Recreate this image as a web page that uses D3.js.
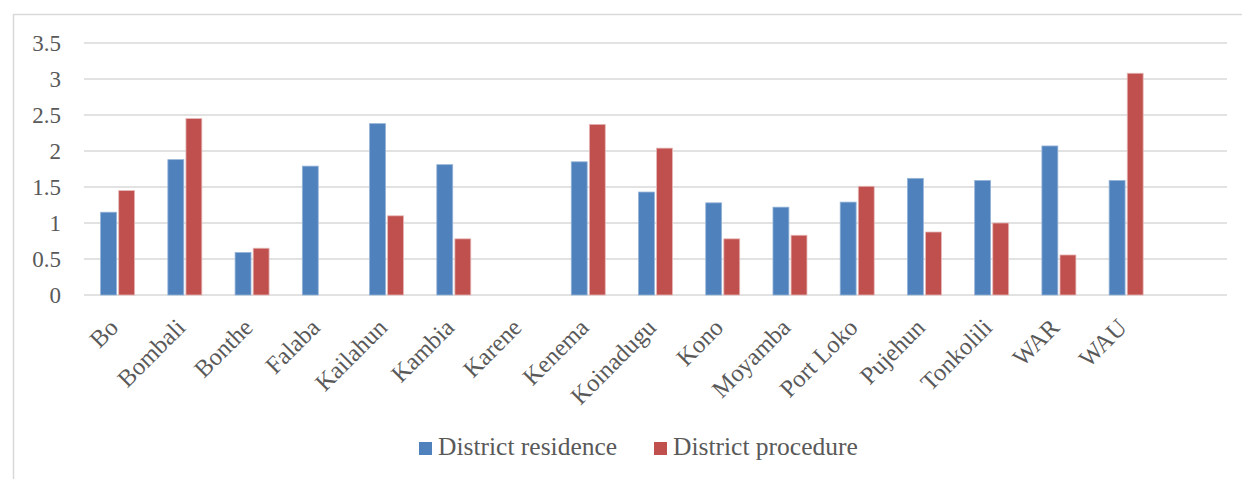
<!DOCTYPE html>
<html>
<head>
<meta charset="utf-8">
<script src="https://cdn.jsdelivr.net/npm/d3@7"></script>
<style>
  body { margin: 0; background: #fff; }
  text { font-family: "Liberation Serif", "DejaVu Serif", serif; fill: #595959; }
</style>
</head>
<body>
<div id="container"></div>
<script>
/* CONSTANTS AND GLOBALS */
const width = 1242,
  height = 479,
  margin = { top: 43, bottom: 184, left: 84, right: 15 };

/* DATA */
// last slot is an empty category, as in the original chart
const districts = ["Bo", "Bombali", "Bonthe", "Falaba", "Kailahun", "Kambia", "Karene", "Kenema",
  "Koinadugu", "Kono", "Moyamba", "Port Loko", "Pujehun", "Tonkolili", "WAR", "WAU", ""];
const residence = [1.15, 1.88, 0.59, 1.79, 2.38, 1.81, 0, 1.85, 1.43, 1.28, 1.22, 1.29, 1.62, 1.59, 2.07, 1.59, null];
const procedure = [1.45, 2.45, 0.65, 0, 1.10, 0.78, 0, 2.37, 2.04, 0.78, 0.83, 1.51, 0.875, 1.0, 0.556, 3.08, null];
const seriesNames = ["District residence", "District procedure"];
const yTicks = [0, 0.5, 1, 1.5, 2, 2.5, 3, 3.5];

const colors = ["#4F81BD", "#C0504D"];
const strokes = ["#95b3d7", "#e6b9b8"];

const data = districts.map((d, i) => ({ name: d, values: [residence[i], procedure[i]] }));

// SVG
const svg = d3.select("#container")
  .append("svg")
  .attr("width", width)
  .attr("height", height);

// chart border
svg.append("rect")
  .attr("x", 13.5).attr("y", 14.5)
  .attr("width", width).attr("height", height)
  .attr("fill", "none")
  .attr("stroke", "#d9d9d9")
  .attr("stroke-width", 1.5);

// SCALES
const xScale = d3.scaleBand()
  .domain(districts.map((d, i) => i))
  .range([margin.left, width - margin.right]);

const xInner = d3.scaleBand()
  .domain([0, 1])
  .range([0, 34])
  .paddingInner(0.12);

const yScale = d3.scaleLinear()
  .domain([0, 3.5])
  .range([height - margin.bottom, margin.top]);

// GRIDLINES
svg.append("g")
  .selectAll("line")
  .data(yTicks)
  .join("line")
  .attr("x1", margin.left)
  .attr("x2", width - margin.right)
  .attr("y1", d => yScale(d))
  .attr("y2", d => yScale(d))
  .attr("stroke", "#d9d9d9")
  .attr("stroke-width", 1.5);

// Y AXIS LABELS
const yAxis = d3.axisLeft(yScale)
  .tickValues(yTicks)
  .tickFormat(d => d)
  .tickSize(0)
  .tickPadding(23);

const yAxisGroup = svg.append("g")
  .attr("transform", `translate(${margin.left}, 0)`)
  .call(yAxis);
yAxisGroup.select(".domain").remove();
yAxisGroup.selectAll("text")
  .attr("font-size", 23)
  .attr("fill", "#595959")
  .style("font-family", "Liberation Serif");

// BARS
const groups = svg.append("g")
  .selectAll("g")
  .data(data)
  .join("g")
  .attr("transform", (d, i) => `translate(${xScale(i) + xScale.bandwidth() / 2 - 17}, 0)`);

groups.selectAll("rect")
  .data(d => d.values.map((v, k) => ({ k, v })).filter(e => e.v))
  .join("rect")
  .attr("x", d => xInner(d.k))
  .attr("width", xInner.bandwidth())
  .attr("y", d => yScale(d.v))
  .attr("height", d => yScale(0) - yScale(d.v))
  .attr("fill", d => colors[d.k])
  .attr("stroke", d => strokes[d.k])
  .attr("stroke-width", 0.8);

// X LABELS
svg.append("g")
  .selectAll("text")
  .data(districts)
  .join("text")
  .attr("transform", (d, i) => `translate(${xScale(i) + xScale.bandwidth() / 2 + 2}, 329) rotate(-45)`)
  .attr("text-anchor", "end")
  .attr("font-size", 24.5)
  .text(d => d);

// LEGEND
const legendX = [419, 654];
const legend = svg.append("g")
  .selectAll("g")
  .data(seriesNames)
  .join("g")
  .attr("transform", (d, i) => `translate(${legendX[i]}, 455)`);
legend.append("rect")
  .attr("x", 0).attr("y", -13)
  .attr("width", 13).attr("height", 13)
  .attr("fill", (d, i) => colors[i]);
legend.append("text")
  .attr("x", 19)
  .attr("y", 0)
  .attr("font-size", 25.5)
  .text(d => d);
</script>
</body>
</html>
